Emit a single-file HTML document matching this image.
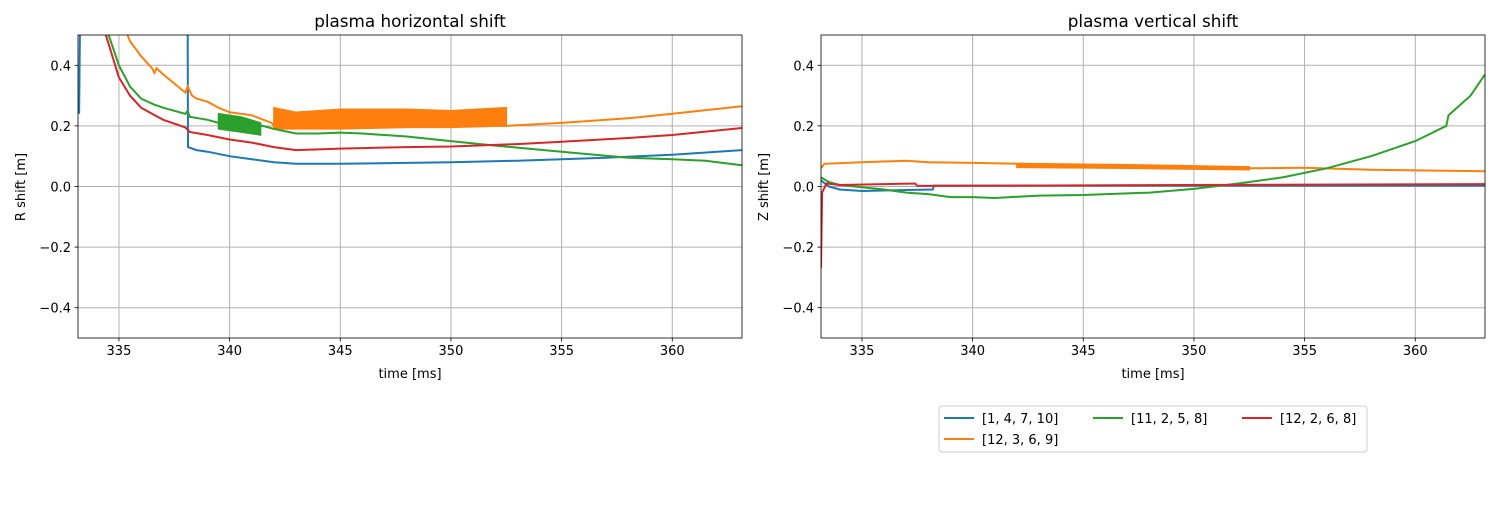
<!DOCTYPE html>
<html><head><meta charset="utf-8"><style>
body{margin:0;background:#fff;font-family:"Liberation Sans","DejaVu Sans",sans-serif;}
svg text{font-family:"DejaVu Sans","Liberation Sans",sans-serif;}
</style></head><body>
<svg id="chart" width="1500" height="500" viewBox="0 0 1500 500" xmlns="http://www.w3.org/2000/svg">
<rect width="1500" height="500" fill="#fff"/>
<defs>
<clipPath id="c0"><rect x="78" y="35" width="664" height="303"/></clipPath>
<clipPath id="c1"><rect x="821" y="35" width="664" height="303"/></clipPath>
</defs>
<g id="g0"></g><g id="g1"></g>
<g>
<rect x="939" y="406" width="428" height="46" rx="3" fill="#fff" stroke="#ccc"/>
<line x1="944" y1="418" x2="974" y2="418" stroke="#1f77b4" stroke-width="2"/><text x="982" y="423" font-size="13">[1, 4, 7, 10]</text>
<line x1="944" y1="439" x2="974" y2="439" stroke="#ff7f0e" stroke-width="2"/><text x="982" y="444" font-size="13">[12, 3, 6, 9]</text>
<line x1="1093" y1="418" x2="1123" y2="418" stroke="#2ca02c" stroke-width="2"/><text x="1131" y="423" font-size="13">[11, 2, 5, 8]</text>
<line x1="1242" y1="418" x2="1272" y2="418" stroke="#d62728" stroke-width="2"/><text x="1280" y="423" font-size="13">[12, 2, 6, 8]</text>
</g>
</svg>
<script>
const xTicks=[335,340,345,350,355,360];
const yTicks=[-0.4,-0.2,0.0,0.2,0.4];
const titles=["plasma horizontal shift","plasma vertical shift"];
const yLabels=["R shift [m]","Z shift [m]"];
const colors=["#1f77b4","#ff7f0e","#2ca02c","#d62728"];
// left (R) series: [time, value]
const rBlue=[[333.2,0.24],[333.25,0.6],[338.1,0.6],[338.12,0.13],[338.5,0.12],[339,0.115],[340,0.1],[341,0.09],[342,0.08],[343,0.075],[345,0.075],[348,0.078],[350,0.08],[353,0.085],[355,0.09],[357,0.095],[360,0.105],[363.15,0.12]];
const rOrange=[[335.1,0.55],[335.5,0.48],[336,0.43],[336.5,0.39],[336.6,0.375],[336.7,0.39],[337,0.37],[337.5,0.34],[338,0.31],[338.1,0.33],[338.3,0.3],[338.5,0.29],[339,0.28],[339.5,0.26],[340,0.245],[341,0.235],[341.9,0.21],[342,0.2],[352.5,0.2],[355,0.21],[358,0.225],[360,0.24],[363.15,0.265]];
const rOrangeBand=[[342,0.19,0.26],[343,0.19,0.245],[345,0.19,0.255],[348,0.195,0.255],[350,0.195,0.25],[352.5,0.2,0.26]];
const rGreen=[[334.3,0.55],[335,0.4],[335.5,0.33],[336,0.29],[336.6,0.27],[337,0.26],[338,0.24],[338.1,0.25],[338.2,0.23],[339,0.22],[339.5,0.21],[341.5,0.2],[342,0.19],[343,0.175],[344,0.175],[345,0.178],[346,0.175],[348,0.165],[350,0.15],[352,0.135],[355,0.115],[358,0.095],[360,0.09],[361.5,0.085],[363.15,0.07]];
const rGreenBand=[[339.5,0.19,0.24],[340.5,0.18,0.23],[341.4,0.17,0.21]];
const rRed=[[334.2,0.55],[335,0.36],[335.5,0.3],[336,0.26],[336.5,0.24],[337,0.22],[338,0.195],[338.2,0.18],[339,0.17],[340,0.155],[341,0.145],[342,0.13],[343,0.12],[345,0.125],[348,0.13],[350,0.132],[353,0.14],[355,0.148],[358,0.16],[360,0.17],[363.15,0.193]];
// right (Z) series
const zBlue=[[333.15,0.02],[333.5,0],[334,-0.01],[335,-0.015],[338.2,-0.01],[338.25,0.003],[363.15,0.003]];
const zOrange=[[333.15,0.06],[333.3,0.075],[335,0.08],[337,0.085],[338,0.08],[340,0.078],[342,0.075],[352.5,0.06],[355,0.062],[358,0.055],[363.15,0.05]];
const zOrangeBand=[[342,0.063,0.076],[347,0.06,0.072],[352.5,0.055,0.065]];
const zGreen=[[333.15,0.03],[333.5,0.015],[334,0.005],[336,-0.01],[337,-0.02],[338,-0.025],[339,-0.035],[340,-0.035],[341,-0.038],[343,-0.03],[345,-0.028],[348,-0.02],[350,-0.008],[352,0.01],[354,0.03],[356,0.06],[358,0.1],[360,0.15],[361.4,0.2],[361.5,0.235],[362.5,0.3],[363.15,0.37]];
const zRed=[[333.15,-0.27],[333.2,-0.02],[333.4,0.01],[334,0.005],[337.4,0.01],[337.5,0.002],[363.15,0.008]];

const NS="http://www.w3.org/2000/svg";
const X0=[78,821],W=664,Y0=35,H=303,T0=333.15,T1=363.15;
function sx(p,t){return X0[p]+(t-T0)/(T1-T0)*W;}
function sy(v){return Y0+(0.5-v)/1.0*H;}
function mk(parent,tag,attrs){const e=document.createElementNS(NS,tag);for(const k in attrs)e.setAttribute(k,attrs[k]);parent.appendChild(e);return e;}
function line(p,g,data,c,name){
  const d=data.map((q,i)=>(i?"L":"M")+sx(p,q[0]).toFixed(1)+","+sy(q[1]).toFixed(1)).join("");
  const e=mk(g,"path",{d:d,fill:"none",stroke:c,"stroke-width":2});
  
  
}
function band(p,g,data,c,name){
  let d=data.map((q,i)=>(i?"L":"M")+sx(p,q[0]).toFixed(1)+","+sy(q[2]).toFixed(1)).join("");
  d+=data.slice().reverse().map(q=>"L"+sx(p,q[0]).toFixed(1)+","+sy(q[1]).toFixed(1)).join("")+"Z";
  const e=mk(g,"path",{d:d,fill:c,stroke:c,"stroke-width":1.5});
  
  
}
[0,1].forEach(p=>{
  const g=document.getElementById("g"+p);
  
  
  xTicks.forEach(t=>{const x=sx(p,t);
    mk(g,"line",{x1:x,x2:x,y1:Y0,y2:Y0+H,stroke:"#b0b0b0","stroke-width":1});
    mk(g,"line",{x1:x,x2:x,y1:Y0+H,y2:Y0+H+3.5,stroke:"#000","stroke-width":0.8});
    const tx=mk(g,"text",{x:x,y:Y0+H+17,"font-size":13,"text-anchor":"middle"});tx.textContent=t;
    
    
  });
  yTicks.forEach(v=>{const y=sy(v);
    mk(g,"line",{x1:X0[p],x2:X0[p]+W,y1:y,y2:y,stroke:"#b0b0b0","stroke-width":1});
    mk(g,"line",{x1:X0[p]-3.5,x2:X0[p],y1:y,y2:y,stroke:"#000","stroke-width":0.8});
    const tx=mk(g,"text",{x:X0[p]-7,y:y+5,"font-size":13,"text-anchor":"end"});tx.textContent=(v<0?"\u2212":"")+Math.abs(v).toFixed(1);
    
    
  });
  const cg=mk(g,"g",{"clip-path":"url(#c"+p+")"});
  if(p===0){
    line(0,cg,rBlue,colors[0],'series-blue');
    line(0,cg,rOrange,colors[1],'series-orange');band(0,cg,rOrangeBand,colors[1],'series-orange-oscillation');
    line(0,cg,rGreen,colors[2],'series-green');band(0,cg,rGreenBand,colors[2],'series-green-oscillation');
    line(0,cg,rRed,colors[3],'series-red');
  } else {
    line(1,cg,zBlue,colors[0],'series-blue');
    line(1,cg,zOrange,colors[1],'series-orange');band(1,cg,zOrangeBand,colors[1],'series-orange-oscillation');
    line(1,cg,zGreen,colors[2],'series-green');
    line(1,cg,zRed,colors[3],'series-red');
  }
  mk(g,"rect",{x:X0[p],y:Y0,width:W,height:H,fill:"none",stroke:"#000","stroke-width":0.8});
  const tt=mk(g,"text",{x:X0[p]+W/2,y:27,"font-size":16.8,"text-anchor":"middle"});tt.textContent=titles[p];
  
  
  const xl=mk(g,"text",{x:X0[p]+W/2,y:378,"font-size":13,"text-anchor":"middle"});xl.textContent="time [ms]";
  
  
  const yx=X0[p]-53;
  const yl=mk(g,"text",{x:yx,y:187,"font-size":13,"text-anchor":"middle",transform:"rotate(-90 "+yx+" 187)"});yl.textContent=yLabels[p];
  
  
});
</script>
</body></html>
